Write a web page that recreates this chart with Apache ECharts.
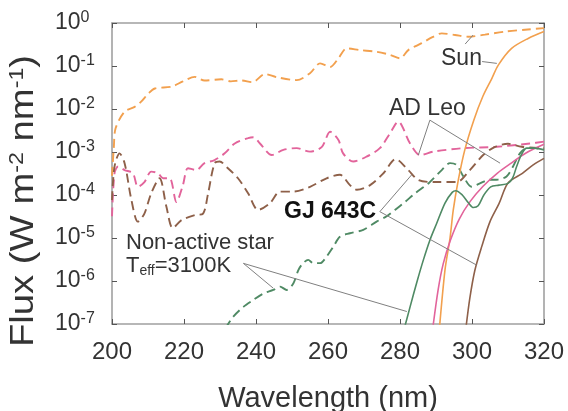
<!DOCTYPE html>
<html><head><meta charset="utf-8">
<script src="https://cdn.jsdelivr.net/npm/echarts@6/dist/echarts.min.js"></script>
<style>html,body{margin:0;padding:0;background:#fff}#c{width:568px;height:411px}</style>
</head><body><div id="c"></div>
<script>
// ---- data (wavelength nm, flux W m-2 nm-1) ----
const sunDashWl   = [200,200.5,201,203.5,206.3,208.1,210,211.9,216.5,219.7,223,225.7,230.4,233,235.9,239,242.5,245.7,251.3,255,257.8,260.6,262.9,265.2,268.9,273.5,277.2,280,282.3,286,289,291.6,295.3,299,303.6,309.2,315.5,320];
const sunDashFlux = [2.8e-4,1.26e-3,3.55e-3,8.7e-3,1.12e-2,1.48e-2,2.24e-2,3.0e-2,3.3e-2,4.4e-2,5.6e-2,4.6e-2,4.9e-2,4.4e-2,4.6e-2,4.2e-2,6.5e-2,5.5e-2,4.7e-2,6.8e-2,0.115,0.095,0.151,0.257,0.234,0.214,0.182,0.151,0.234,0.339,0.468,0.575,0.525,0.479,0.537,0.631,0.708,0.759];

const adLeoDashWl   = [200,200.7,201.7,203.5,205.8,207.2,209,210.9,212.8,214.2,216,217.9,219.7,221.1,223.4,225.7,228.5,231.3,234.1,237.8,239.3,241.1,244.4,247.6,251.3,255,258.3,260.6,262.9,264.2,267,270.7,274.4,277.2,279.5,282.8,285.6,289.3,297.6,306.9,316.1,320];
const adLeoDashFlux = [3.2e-5,3.2e-4,4.6e-4,3.8e-4,3.2e-4,1.55e-4,2.0e-4,3.5e-4,3.2e-4,2.45e-4,2.45e-4,6.9e-5,1.7e-4,4.2e-4,3.8e-4,5.5e-4,6.5e-4,9.3e-4,1.58e-3,2.1e-3,2.2e-3,1.58e-3,8.5e-4,1.12e-3,1.23e-3,1.02e-3,1.32e-3,2.95e-3,1.9e-3,9.3e-4,6.0e-4,7.8e-4,1.23e-3,2.7e-3,5.1e-3,1.58e-3,8.5e-4,1.02e-3,1.23e-3,1.32e-3,1.58e-3,1.74e-3];

const gjDashWl   = [200,200.7,202.1,203.5,205.4,207.2,209,210.9,213.2,215.1,216.9,219.3,223,225.3,226.7,228.5,229.9,232.2,235,237.8,240.6,243.9,246.7,250.4,255,259.6,263.3,266.1,268,271.7,275.4,278.8,282.3,285.1,289.7,295.7,299.4,303.1,306.4,310,313.8,320];
const gjDashFlux = [7.6e-5,4.6e-4,9.3e-4,5.5e-4,7.6e-5,2.4e-5,3.7e-5,1.1e-4,2.45e-4,5.4e-5,1.7e-5,2.6e-5,3.4e-5,3.7e-5,1.1e-4,5.5e-4,6.0e-4,4.2e-4,2.45e-4,1.1e-4,4.5e-5,6.5e-5,1.2e-4,1.2e-4,1.55e-4,2.45e-4,2.95e-4,1.7e-4,1.32e-4,1.7e-4,3.2e-4,6.8e-4,3.8e-4,2.24e-4,2.0e-4,2.0e-4,3.8e-4,8.5e-4,1.32e-3,1.55e-3,1.32e-3,1.23e-3];

const quietDashWl   = [231.5,233.7,236.5,239.2,242,244.8,246.7,248.5,250.4,251.8,253.1,254.5,255.9,257.8,259.6,261.5,263.3,266.1,269.8,273.5,276.3,278.6,281.4,284.2,287.9,291.6,293.9,295.7,297.6,299.9,302.2,304.5,307.3,309.6,311.4,313.3,315.2,317.5,320];
const quietDashFlux = [7.9e-8,1.48e-7,2.5e-7,3.6e-7,5.1e-7,6.2e-7,7.4e-7,6.2e-7,8.9e-7,1.82e-6,2.6e-6,3.1e-6,2.6e-6,2.6e-6,3.7e-6,6.3e-6,1.07e-5,1.29e-5,1.55e-5,2.4e-5,3.2e-5,4.5e-5,6.9e-5,1.1e-4,1.86e-4,3.8e-4,5.5e-4,5.0e-4,2.7e-4,1.55e-4,1.86e-4,2.24e-4,2.3e-4,2.7e-4,4.6e-4,9.3e-4,1.23e-3,1.23e-3,1.15e-3];

const sunSolidWl   = [290.8,292.5,293.9,294.8,296.2,298,300.5,303,305.5,307.3,311,315.6,320];
const sunSolidFlux = [5.6e-8,1.82e-6,1.0e-5,4.5e-5,2.24e-4,1.12e-3,5.5e-3,1.95e-2,5.1e-2,0.105,0.257,0.437,0.631];

const adLeoSolidWl   = [289.1,290.6,292,294,296.5,299.5,303,307,311,315,320];
const adLeoSolidFlux = [7.9e-8,6.3e-7,2.5e-6,8.9e-6,2.8e-5,7.1e-5,1.58e-4,3.2e-4,5.6e-4,9.5e-4,1.51e-3];

const gjSolidWl   = [298.3,299.4,300.8,302.7,305,307.5,310,314,317,320];
const gjSolidFlux = [7.9e-8,4.0e-7,1.78e-6,6.3e-6,2.4e-5,6.3e-5,1.9e-4,3.2e-4,5.0e-4,7.1e-4];

const quietSolidWl   = [281.2,282.8,284.6,286.5,288.3,290.2,292.5,294.5,295.5,297.3,299,300.4,301.7,303.3,305.2,307.5,310,311.3,312.4,313.8,315.2,317.5,320];
const quietSolidFlux = [7.9e-8,2.5e-7,8.9e-7,3.1e-6,8.9e-6,2.2e-5,6.5e-5,1.15e-4,1.26e-4,1.0e-4,6.6e-5,5.1e-5,5.6e-5,1.0e-4,1.55e-4,1.7e-4,1.86e-4,2.5e-4,4.6e-4,8.9e-4,1.23e-3,1.23e-3,1.12e-3];

const xTicks = [200,220,240,260,280,300,320];
const yExponents = [-7,-6,-5,-4,-3,-2,-1,0];

// leader lines: [from, to] in data coordinates
const leaderLines = [
  [[298.1,0.324],[300.3,0.525]],
  [[302.8,0.127],[306.9,0.115]],
  [[288.3,5.5e-3],[285.1,8.5e-4]],
  [[288.3,5.5e-3],[307.8,5.5e-4]],
  [[274.4,4.1e-5],[283.25,2.95e-4]],
  [[274.4,4.1e-5],[301.3,2.34e-6]],
  [[236.5,2.57e-6],[244.8,6.8e-7]],
  [[236.5,2.57e-6],[281.9,1.95e-7]]
];

const C = {sun:'#F2A04E', adleo:'#E2649B', gj:'#8E6049', quiet:'#4F8A64'};

function pairs(w,f){return w.map((x,i)=>[x,f[i]]);}
function line(name,w,f,color,dashed){
  return {name:name,type:'line',data:pairs(w,f),showSymbol:false,symbol:'none',smooth:0.3,
    xAxisIndex:0,yAxisIndex:0,clip:true,
    lineStyle:{color:color,width:dashed?1.9:1.6,type:dashed?[9,5]:'solid'}};
}

const chart = echarts.init(document.getElementById('c'),null,{renderer:'canvas'});
const axisCol = '#a0a0a0';
const labelFont = 'Liberation Sans, Arial, sans-serif';
const series = [
  line('Sun (dashed)',sunDashWl,sunDashFlux,C.sun,true),
  line('AD Leo (dashed)',adLeoDashWl,adLeoDashFlux,C.adleo,true),
  line('GJ 643C (dashed)',gjDashWl,gjDashFlux,C.gj,true),
  line('Non-active (dashed)',quietDashWl,quietDashFlux,C.quiet,true),
  line('Sun',sunSolidWl,sunSolidFlux,C.sun,false),
  line('AD Leo',adLeoSolidWl,adLeoSolidFlux,C.adleo,false),
  line('GJ 643C',gjSolidWl,gjSolidFlux,C.gj,false),
  line('Non-active',quietSolidWl,quietSolidFlux,C.quiet,false)
];
series[0].markLine = {silent:true,symbol:['none','none'],label:{show:false},animation:false,
  lineStyle:{color:'#808080',width:1,type:'solid'},
  data:leaderLines.map(p=>[{coord:p[0]},{coord:p[1]}])};

chart.setOption({
  animation:false,
  backgroundColor:'#fff',
  grid:{left:112,right:24,top:23,bottom:87,containLabel:false,outerBoundsMode:'none'},
  xAxis:[{type:'value',min:200,max:320,interval:20,position:'bottom',
      name:'Wavelength (nm)',nameLocation:'middle',nameGap:60,
      nameTextStyle:{fontSize:29,color:'#333',fontFamily:labelFont},
      axisLine:{show:true,lineStyle:{color:axisCol,width:1.6}},
      axisTick:{show:true,inside:true,length:5,lineStyle:{color:'#555'}},
      axisLabel:{fontSize:24,color:'#333',margin:16,fontFamily:labelFont,
        formatter:v=>xTicks.includes(v)?String(v):''},
      splitLine:{show:false}},
    {type:'value',min:200,max:320,interval:20,position:'top',
      axisLine:{show:true,lineStyle:{color:axisCol,width:1.6}},
      axisTick:{show:true,inside:true,length:5,lineStyle:{color:'#555'}},
      axisLabel:{show:false},splitLine:{show:false}}],
  yAxis:[{type:'log',logBase:10,min:1e-7,max:1,interval:1,position:'left',
      axisLine:{show:true,lineStyle:{color:axisCol,width:1.6}},
      axisTick:{show:true,inside:true,length:5,lineStyle:{color:'#555'}},
      minorTick:{show:false},splitLine:{show:false},
      axisLabel:{margin:57,align:'left',fontFamily:labelFont,
        formatter:v=>{const e=Math.round(Math.log10(v));return yExponents.includes(e)?'{b|10}{s|'+e+'}':'';},
        rich:{b:{fontSize:23,color:'#333',fontFamily:labelFont,lineHeight:26},
              s:{fontSize:16,color:'#333',fontFamily:labelFont,verticalAlign:'top',lineHeight:14}}}},
    {type:'log',logBase:10,min:1e-7,max:1,interval:1,position:'right',
      axisLine:{show:true,lineStyle:{color:axisCol,width:1.6}},
      axisTick:{show:true,inside:true,length:5,lineStyle:{color:'#555'}},
      axisLabel:{show:false},splitLine:{show:false}}],
  series:series,
  graphic:[
    {type:'text',x:24,y:201,rotation:Math.PI/2,scaleX:1.16,
      style:{text:'{n|Flux (W m}{s|-2}{n| nm}{s|-1}{n|)}',align:'center',verticalAlign:'middle',
        rich:{n:{fontSize:33,fill:'#333',fontFamily:labelFont,lineHeight:33},
              s:{fontSize:20,fill:'#333',fontFamily:labelFont,verticalAlign:'top',lineHeight:18}}}},
    {type:'text',x:441,y:59,style:{text:'Sun',fontSize:23,fill:'#333',fontFamily:labelFont,verticalAlign:'middle'}},
    {type:'text',x:389,y:109,style:{text:'AD Leo',fontSize:23,fill:'#333',fontFamily:labelFont,verticalAlign:'middle'}},
    {type:'text',x:284,y:212,style:{text:'GJ 643C',fontSize:23,fontWeight:'bold',fill:'#111',fontFamily:labelFont,verticalAlign:'middle'}},
    {type:'text',x:126,y:243,style:{text:'Non-active star',fontSize:22,fill:'#333',fontFamily:labelFont,verticalAlign:'middle'}},
    {type:'text',x:126,y:266,style:{text:'{n|T}{sub|eff}{n|=3100K}',verticalAlign:'middle',
        rich:{n:{fontSize:22,fill:'#333',fontFamily:labelFont,lineHeight:24},
              sub:{fontSize:14,fill:'#333',fontFamily:labelFont,verticalAlign:'bottom',lineHeight:14}}}}
  ]
});
</script></body></html>
